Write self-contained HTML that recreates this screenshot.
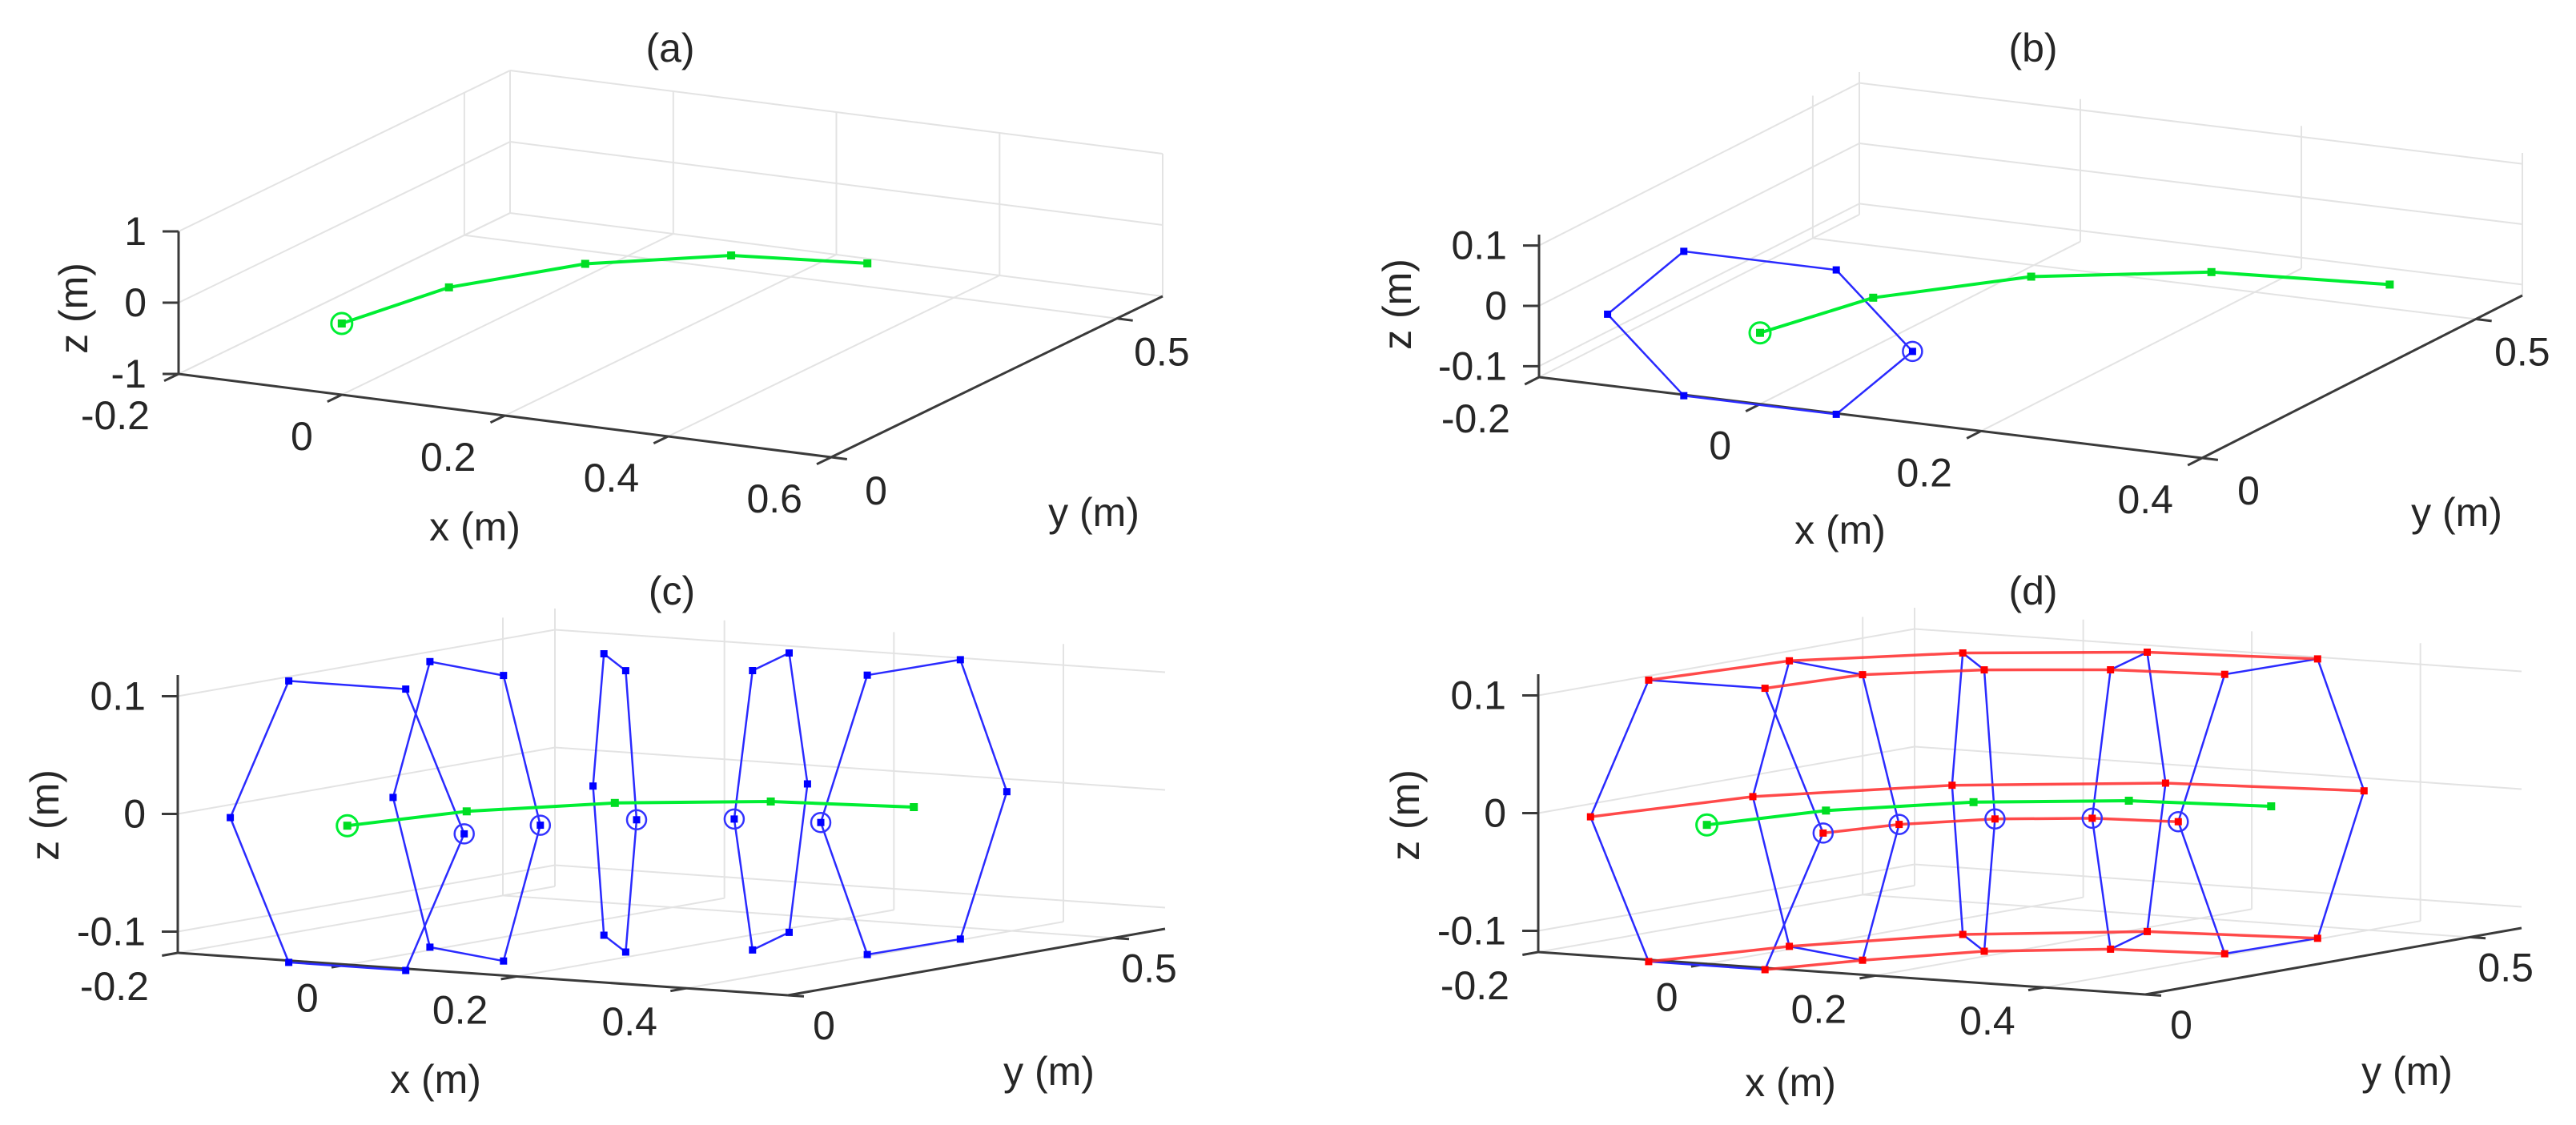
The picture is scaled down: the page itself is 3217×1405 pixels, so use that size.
<!DOCTYPE html>
<html>
<head>
<meta charset="utf-8">
<style>
html,body{margin:0;padding:0;background:#fff;}
svg{display:block;}
text{font-family:"Liberation Sans",Arial,sans-serif;fill:#262626;}
</style>
</head>
<body>
<svg id="fig" xmlns="http://www.w3.org/2000/svg" width="3217" height="1405" viewBox="0 0 3217 1405"></svg>
<script>
// ---- data (metres) ----
const trajX = [0, 0.032, 0.117, 0.242, 0.39];
const trajY = [0, 0.142, 0.259, 0.336, 0.363];
const trajZ = [0, 0, 0, 0, 0];
const ringAngleDeg = [0, -23, -44, -67, -92];
const ringRadius = [0.138, 0.14, 0.138, 0.137, 0.137];
const hexAnglesDeg = [0, 60, 120, 180, 240, 300];

const xTicksA = [-0.2, 0, 0.2, 0.4, 0.6];
const xTicksB = [-0.2, 0, 0.2, 0.4];
const xTicksCD = [-0.2, 0, 0.2, 0.4];
const yTicks = [0, 0.5];
const zTicksA = [-1, 0, 1];
const zTicksBCD = [-0.1, 0, 0.1];
const xTickLabelsA = ['-0.2', '0', '0.2', '0.4', '0.6'];
const xTickLabelsB = ['-0.2', '0', '0.2', '0.4'];
const yTickLabels = ['0', '0.5'];
const zTickLabelsA = ['-1', '0', '1'];
const zTickLabelsB = ['-0.1', '0', '0.1'];

// ---- panel layouts ----
const panels = [
 {id:'a', title:'(a)', tpos:[837,60], O:[223,467], Ex:[815,104], Ey:[414,-201], Ez:[0,-178],
  xl:[-0.2,0.6], yl:[0,0.58], zl:[-1,1], xt:xTicksA, xtl:xTickLabelsA, zt:zTicksA, ztl:zTickLabelsA,
  xdy:52, yoff:[56,42], zlab:[92,385], xlab:[593,658], ylab:[1366,640], rings:0, red:false},
 {id:'b', title:'(b)', tpos:[2539,60], O:[1922,471], Ex:[828,101], Ey:[400,-203], Ez:[0,-178],
  xl:[-0.2,0.4], yl:[0,0.585], zl:[-0.118,0.118], xt:xTicksB, xtl:xTickLabelsB, zt:zTicksBCD, ztl:zTickLabelsB,
  xdy:52, yoff:[58,41], zlab:[1745,380], xlab:[2298,662], ylab:[3068,640], rings:1, red:false},
 {id:'c', title:'(c)', tpos:[839,738], O:[222,1190], Ex:[762,53], Ey:[471,-83], Ez:[0,-347],
  xl:[-0.2,0.52], yl:[0,0.58], zl:[-0.118,0.118], xt:xTicksCD, xtl:xTickLabelsB, zt:zTicksBCD, ztl:zTickLabelsB,
  xdy:42, yoff:[45,38], zlab:[56,1018], xlab:[544,1348], ylab:[1310,1338], rings:5, red:false},
 {id:'d', title:'(d)', tpos:[2539,738], O:[1921,1189], Ex:[758,53], Ey:[470,-83], Ez:[0,-347],
  xl:[-0.2,0.52], yl:[0,0.58], zl:[-0.118,0.118], xt:xTicksCD, xtl:xTickLabelsB, zt:zTicksBCD, ztl:zTickLabelsB,
  xdy:42, yoff:[45,38], zlab:[1755,1018], xlab:[2236,1352], ylab:[3006,1338], rings:5, red:true}
];

const NS = 'http://www.w3.org/2000/svg';
const svg = document.getElementById('fig');
function mk(tag, attrs, parent){
  const e = document.createElementNS(NS, tag);
  for (const k in attrs) e.setAttribute(k, attrs[k]);
  parent.appendChild(e);
  return e;
}
function proj(p, x, y, z){
  const fx=(x-p.xl[0])/(p.xl[1]-p.xl[0]), fy=(y-p.yl[0])/(p.yl[1]-p.yl[0]), fz=(z-p.zl[0])/(p.zl[1]-p.zl[0]);
  return [p.O[0]+fx*p.Ex[0]+fy*p.Ey[0]+fz*p.Ez[0], p.O[1]+fx*p.Ex[1]+fy*p.Ey[1]+fz*p.Ez[1]];
}
function line(g, a, b, stroke, w, name){
  const l = mk('line', {x1:a[0].toFixed(1), y1:a[1].toFixed(1), x2:b[0].toFixed(1), y2:b[1].toFixed(1), stroke:stroke, 'stroke-width':w}, g);
  
  
  return l;
}
function poly(g, pts, stroke, w, name, op){
  const pl = mk('polyline', {points: pts.map(q=>q[0].toFixed(1)+','+q[1].toFixed(1)).join(' '), fill:'none', stroke:stroke, 'stroke-width':w, 'stroke-linejoin':'round', opacity: op||1}, g);
  
  
  return pl;
}
function dot(g, q, r, fill, name){
  const c = mk('rect', {x:(q[0]-r).toFixed(1), y:(q[1]-r).toFixed(1), width:2*r, height:2*r, fill:fill}, g);
  
  
}
function ring(g, q, r, stroke, w, name){
  const c = mk('circle', {cx:q[0].toFixed(1), cy:q[1].toFixed(1), r:r, fill:'none', stroke:stroke, 'stroke-width':w}, g);
  
  
}
function txt(g, s, x, y, anchor, name, rot){
  const t = mk('text', {x:x, y:y, 'font-size':50, 'text-anchor':anchor, 'dominant-baseline':'central'}, g);
  if (rot) t.setAttribute('transform', 'rotate(-90 '+x+' '+y+')');
  t.textContent = s;
  
  
}
function unit(v){const n=Math.hypot(v[0],v[1]);return [v[0]/n,v[1]/n];}

function hexVerts(i){
  const phi = ringAngleDeg[i]*Math.PI/180, r = ringRadius[i];
  return hexAnglesDeg.map(a=>{
    const t=a*Math.PI/180;
    return [trajX[i]+r*Math.cos(t)*Math.cos(phi), trajY[i]+r*Math.cos(t)*Math.sin(phi), trajZ[i]+r*Math.sin(t)];
  });
}

panels.forEach(p=>{
  const g = mk('g', {}, svg);
  
  
  const [x0,x1]=p.xl, [y0,y1]=p.yl, [z0,z1]=p.zl;
  const grid = mk('g', {}, g);
  
  
  const gc = '#e3e3e3', gw = 2;
  p.zt.forEach(z=>{ line(grid, proj(p,x0,y0,z), proj(p,x0,y1,z), gc, gw, 'grid-z'); line(grid, proj(p,x0,y1,z), proj(p,x1,y1,z), gc, gw, 'grid-z'); });
  yTicks.forEach(y=>{ line(grid, proj(p,x0,y,z0), proj(p,x0,y,z1), gc, gw, 'grid-y'); line(grid, proj(p,x0,y,z0), proj(p,x1,y,z0), gc, gw, 'grid-y'); });
  p.xt.forEach(x=>{ line(grid, proj(p,x,y1,z0), proj(p,x,y1,z1), gc, gw, 'grid-x'); line(grid, proj(p,x,y0,z0), proj(p,x,y1,z0), gc, gw, 'grid-x'); });

  // axes
  const ac = '#3a3a3a', aw = 3;
  line(g, proj(p,x0,y0,z0), proj(p,x0,y0,z1), ac, aw, 'z-axis-'+p.id);
  line(g, proj(p,x0,y0,z0), proj(p,x1,y0,z0), ac, aw, 'x-axis-'+p.id);
  line(g, proj(p,x1,y0,z0), proj(p,x1,y1,z0), ac, aw, 'y-axis-'+p.id);
  const ey = unit(p.Ey), ex = unit(p.Ex);
  p.xt.forEach((x,i)=>{
    const q = proj(p,x,y0,z0);
    line(g, q, [q[0]-ey[0]*20, q[1]-ey[1]*20], ac, aw, 'x-tick');
    txt(g, p.xtl[i], q[0]-36, q[1]+p.xdy, 'end', 'x-tick-label');
  });
  yTicks.forEach((y,i)=>{
    const q = proj(p,x1,y,z0);
    line(g, q, [q[0]+ex[0]*20, q[1]+ex[1]*20], ac, aw, 'y-tick');
    txt(g, yTickLabels[i], q[0]+p.yoff[0], q[1]+p.yoff[1], 'middle', 'y-tick-label');
  });
  p.zt.forEach((z,i)=>{
    const q = proj(p,x0,y0,z);
    line(g, q, [q[0]-20, q[1]], ac, aw, 'z-tick');
    txt(g, p.ztl[i], q[0]-40, q[1], 'end', 'z-tick-label');
  });
  txt(g, p.title, p.tpos[0], p.tpos[1], 'middle', 'panel-title-'+p.id);
  txt(g, 'x (m)', p.xlab[0], p.xlab[1], 'middle', 'x-axis-title');
  txt(g, 'y (m)', p.ylab[0], p.ylab[1], 'middle', 'y-axis-title');
  txt(g, 'z (m)', p.zlab[0], p.zlab[1], 'middle', 'z-axis-title', true);

  // rings
  const hexes = [];
  for (let i=0;i<p.rings;i++){
    const vs = hexVerts(i).map(v=>proj(p,v[0],v[1],v[2]));
    hexes.push(vs);
    poly(g, vs.concat([vs[0]]), '#2a2aff', 2.5, 'cross-section-'+(i+1));
  }
  if (p.red){
    for (let k=0;k<6;k++){
      poly(g, hexes.map(h=>h[k]), '#ff2a2a', 3.5, 'surface-line-'+(k+1), 0.85);
    }
  }
  hexes.forEach((vs,i)=>{
    vs.forEach(q=>dot(g, q, 4.5, p.red ? '#ff0000' : '#0000ff', 'vertex-marker'));
    ring(g, vs[0], 12, '#3333ff', 2.5, 'reference-vertex-circle');
  });

  // trajectory
  const tp = trajX.map((x,i)=>proj(p,x,trajY[i],trajZ[i]));
  poly(g, tp, '#00ee33', 4, 'trajectory-'+p.id);
  tp.forEach(q=>dot(g, q, 5, '#00dd22', 'trajectory-point'));
  ring(g, tp[0], 13, '#00ee33', 3, 'start-point-circle');
});
</script>
</body>
</html>
